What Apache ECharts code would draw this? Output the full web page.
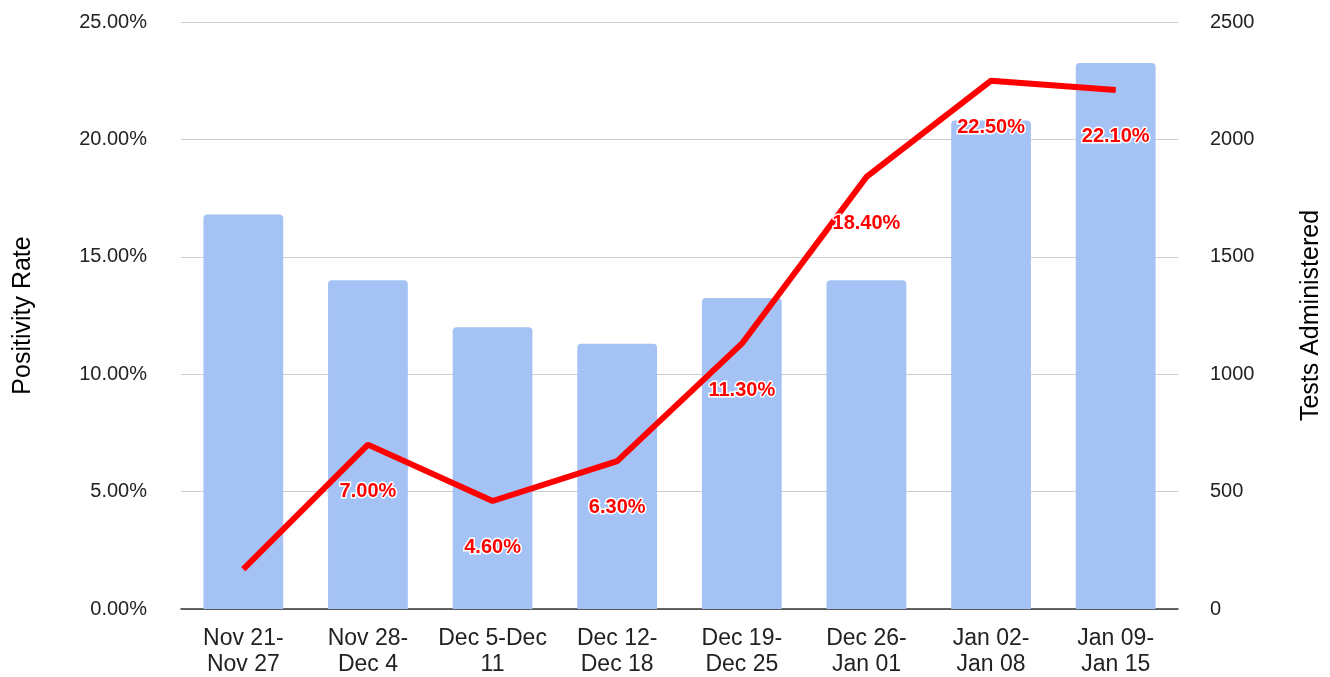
<!DOCTYPE html>
<html>
<head>
<meta charset="utf-8">
<script src="https://cdn.jsdelivr.net/npm/echarts@6/dist/echarts.min.js"></script>
<style>
  html, body { margin: 0; padding: 0; background: #fff; }
  #grafico { width: 1330px; height: 677px; }
</style>
</head>
<body>
<div id="grafico"></div>
<script>
const semanas = ["Nov 21-\nNov 27", "Nov 28-\nDec 4", "Dec 5-Dec\n11", "Dec 12-\nDec 18",
  "Dec 19-\nDec 25", "Dec 26-\nJan 01", "Jan 02-\nJan 08", "Jan 09-\nJan 15"];
const testes = [1680, 1400, 1200, 1130, 1325, 1400, 2080, 2325];
const positividade = [1.7, 7.0, 4.6, 6.3, 11.3, 18.4, 22.5, 22.1];
// first week has no label in the original
const semRotulo = [0];

const fonte = "'Liberation Sans', Arial, sans-serif";

var chart = echarts.init(document.getElementById("grafico"));

var option = {
  animation: false,
  grid: { left: 181, right: 152, top: 22, bottom: 68, outerBoundsMode: "none", containLabel: false },
  xAxis: {
    type: "category",
    data: semanas,
    axisTick: { show: false },
    axisLine: { lineStyle: { color: "#333", width: 1.5 } },
    axisLabel: {
      color: "#222",
      fontFamily: fonte,
      fontSize: 23,
      lineHeight: 26,
      margin: 17,
      interval: 0
    }
  },
  yAxis: [
    {
      type: "value",
      min: 0,
      max: 25,
      interval: 5,
      name: "Positivity Rate",
      nameLocation: "middle",
      nameGap: 145,
      nameTextStyle: { fontFamily: fonte, fontSize: 25, color: "#000" },
      axisLine: { show: false },
      axisTick: { show: false },
      axisLabel: {
        color: "#222",
        fontFamily: fonte,
        fontSize: 20,
        margin: 34,
        formatter: (v) => v.toFixed(2) + "%"
      },
      splitLine: { lineStyle: { color: "#cccccc", width: 1 } }
    },
    {
      type: "value",
      min: 0,
      max: 2500,
      interval: 500,
      name: "Tests Administered",
      nameLocation: "middle",
      nameGap: 121,
      nameTextStyle: { fontFamily: fonte, fontSize: 25, color: "#000" },
      axisLine: { show: false },
      axisTick: { show: false },
      axisLabel: {
        color: "#222",
        fontFamily: fonte,
        fontSize: 20,
        margin: 32,
        formatter: (v) => String(v)
      },
      splitLine: { show: false }
    }
  ],
  series: [
    {
      type: "bar",
      yAxisIndex: 1,
      data: testes,
      barWidth: "64%",
      itemStyle: { color: "#a4c2f4", borderRadius: [4, 4, 0, 0] },
      z: 1
    },
    {
      type: "line",
      yAxisIndex: 0,
      data: positividade.map((v, i) =>
        semRotulo.includes(i) ? { value: v, label: { show: false } } : v
      ),
      symbol: "circle",
      symbolSize: 1,
      showSymbol: true,
      lineStyle: { color: "#ff0000", width: 6 },
      itemStyle: { color: "#ff0000" },
      label: {
        show: true,
        position: "bottom",
        distance: 36,
        color: "#ff0000",
        fontFamily: fonte,
        fontWeight: "bold",
        fontSize: 20,
        textBorderColor: "#fff",
        textBorderWidth: 3,
        formatter: (p) => p.value.toFixed(2) + "%"
      },
      z: 3
    }
  ]
};

option && chart.setOption(option);
</script>
</body>
</html>
